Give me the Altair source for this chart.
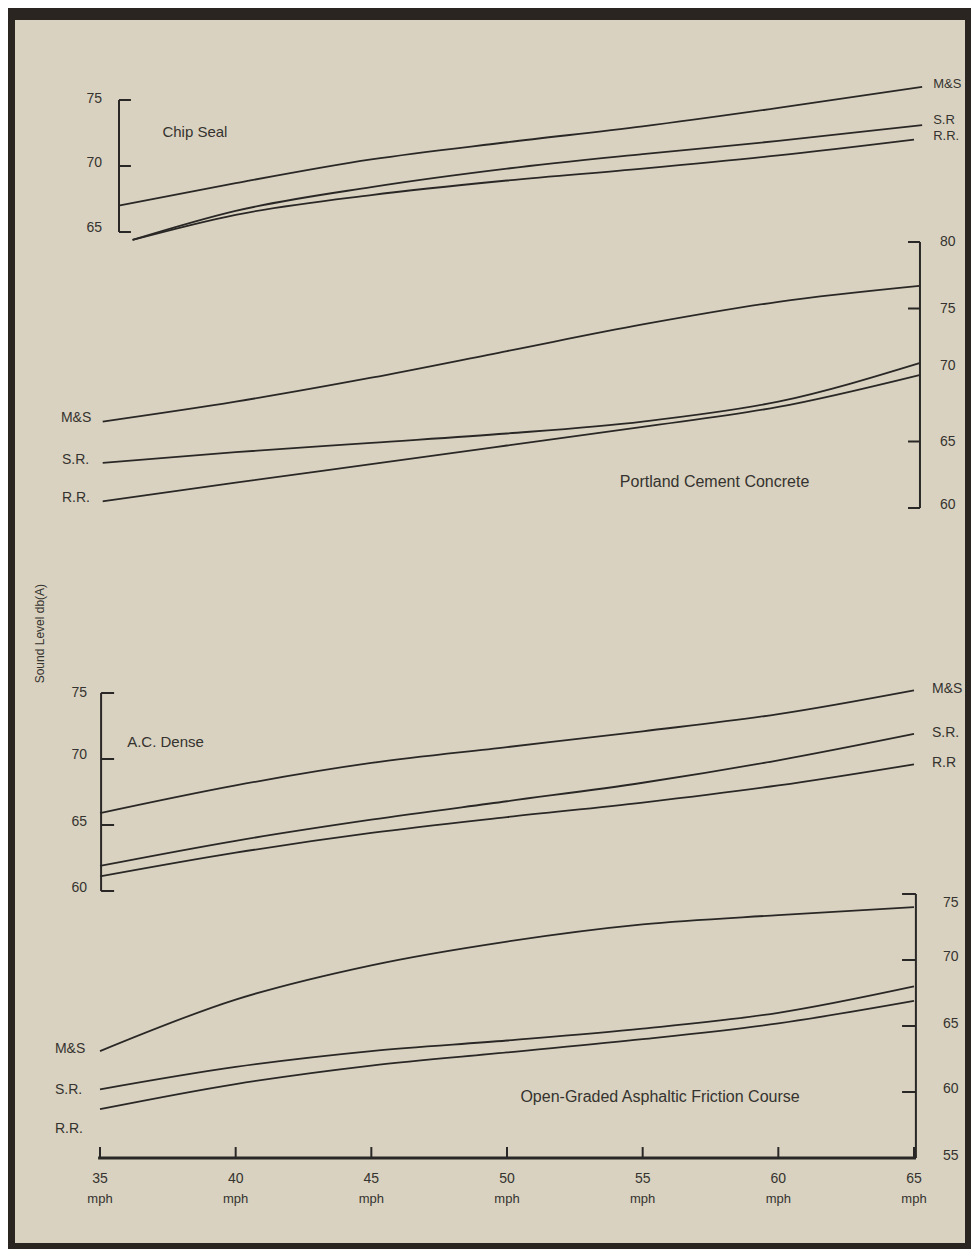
import altair as alt
import pandas as pd

# ---------------- data ----------------
MPH_TICKS = [35, 40, 45, 50, 55, 60, 65]

# Chip Seal (left axis 65-75)
cs_ms_mph = [35.7, 40, 45, 50, 55, 60, 65.3]
cs_ms_db = [67.0, 68.7, 70.5, 71.8, 73.0, 74.4, 76.0]
cs_sr_mph = [36.2, 40, 45, 50, 55, 60, 65.3]
cs_sr_db = [64.4, 66.6, 68.4, 69.8, 70.9, 71.9, 73.1]
cs_rr_mph = [36.2, 40, 45, 50, 55, 60, 65.0]
cs_rr_db = [64.4, 66.3, 67.8, 68.9, 69.8, 70.8, 72.0]

# Portland Cement Concrete (right axis 60-80)
pcc_mph = [35.1, 40, 45, 50, 55, 60, 65.2]
pcc_ms_db = [66.5, 68.0, 69.8, 71.8, 73.8, 75.5, 76.7]
pcc_sr_db = [63.4, 64.2, 64.9, 65.6, 66.5, 68.0, 70.9]
pcc_rr_db = [60.5, 61.9, 63.3, 64.7, 66.1, 67.6, 70.0]

# A.C. Dense (left axis 60-75)
ac_mph = [35, 40, 45, 50, 55, 60, 65]
ac_ms_db = [65.9, 68.0, 69.7, 70.9, 72.1, 73.4, 75.2]
ac_sr_db = [61.9, 63.8, 65.4, 66.8, 68.2, 69.9, 71.9]
ac_rr_db = [61.1, 62.9, 64.4, 65.6, 66.7, 68.0, 69.6]

# Open-Graded Asphaltic Friction Course (right axis 55-75)
og_mph = [35, 40, 45, 50, 55, 60, 65]
og_ms_db = [63.1, 67.0, 69.6, 71.4, 72.7, 73.4, 74.0]
og_sr_db = [60.2, 61.9, 63.1, 63.9, 64.8, 66.0, 68.0]
og_rr_db = [58.7, 60.6, 62.0, 63.0, 64.0, 65.2, 66.9]

SERIES = ["M&S", "S.R.", "R.R."]

# scale-bar ticks and labels of each panel
cs_ticks = [65, 70, 75]
cs_labels = [65, 70, 75]
pcc_ticks = [60, 65, 75, 80]
pcc_labels = [60, 65, 70, 75, 80]
ac_ticks = [60, 65, 70, 75]
ac_labels = [60, 65, 70, 75]
og_ticks = [55, 60, 65, 70, 75]
og_labels = [55, 60, 65, 70, 75]
# where each panel's vertical scale bar stands (mph) and where its ticks end
cs_axis_at, cs_tick_to = 35.70, 36.14
pcc_axis_at, pcc_tick_to = 65.22, 64.78
ac_axis_at, ac_tick_to = 35.04, 35.52
og_axis_at, og_tick_to = 65.07, 64.56
x_tick_top = 55.83  # top of the speed ticks, on the bottom panel's scale

# line-end labels (text, mph, dB)
cs_end_text = ["M&S", "S.R", "R.R."]
cs_end_mph = [65.3, 65.3, 65.3]
cs_end_db = [76.2, 73.5, 72.3]

pcc_start_text = ["M&S", "S.R.", "R.R."]
pcc_start_mph = [33.56, 33.6, 33.6]
pcc_start_db = [66.8, 63.6, 60.75]

ac_end_text = ["M&S", "S.R.", "R.R"]
ac_end_mph = [65, 65, 65]
ac_end_db = [75.3, 72.0, 69.7]

og_start_text = ["M&S", "S.R.", "R.R."]
og_start_mph = [33.34, 33.34, 33.34]
og_start_db = [63.26, 60.15, 57.2]

titles = ["Chip Seal", "Portland Cement Concrete", "A.C. Dense",
          "Open-Graded Asphaltic Friction Course"]
title_mph = [37.3, 54.16, 36.0, 55.64]
title_db = [72.6, 61.95, 71.3, 59.6]

ylabel_text = "Sound Level db(A)"
ylabel_mph = 32.8
ylabel_db = 79.5

# ---------------- styling ----------------
FONT = "Liberation Sans"
INK = "#2a2826"
TXT = "#35332f"
X_SCALE = alt.Scale(domain=[35, 65], range=[85, 899], nice=False, zero=False)


def X(field):
    return alt.X(field, type="quantitative", scale=X_SCALE, axis=None)


def Y(field, yscale):
    return alt.Y(field, type="quantitative", scale=yscale, axis=None)


def series_df(xs_list, ys_list):
    rows = []
    for name, xs, ys in zip(SERIES, xs_list, ys_list):
        for x, y in zip(xs, ys):
            rows.append({"series": name, "mph": x, "db": y})
    return pd.DataFrame(rows)


def text_layer(texts, xs, ys, yscale, align="left", dx=0, dy=0, size=14,
               angle=None):
    d = pd.DataFrame({"label": texts, "mph": xs, "db": ys})
    kw = dict(align=align, baseline="middle", dx=dx, dy=dy, font=FONT,
              fontSize=size, color=TXT)
    if angle is not None:
        kw["angle"] = angle
    return alt.Chart(d).mark_text(**kw).encode(
        x=X("mph"), y=Y("db", yscale), text="label:N")


def rule_layer(x1, x2, y1, y2, yscale, width=2.0):
    d = pd.DataFrame({"x1": x1, "x2": x2, "y1": y1, "y2": y2})
    return alt.Chart(d).mark_rule(color=INK, strokeWidth=width).encode(
        x=X("x1"), x2="x2", y=Y("y1", yscale), y2="y2")


def scale_bar(ticks, labels, at, tick_to, yscale, label_align, label_dx,
              label_dy=None):
    n = len(ticks)
    m = len(labels)
    layers = [
        rule_layer([at], [at], [min(labels)], [max(labels)], yscale, 2.0),
        rule_layer([at] * n, [tick_to] * n, ticks, ticks, yscale, 2.0),
    ]
    dys = label_dy or [0] * m
    for lab, dy in zip(labels, dys):
        layers.append(text_layer([str(lab)], [at], [lab], yscale,
                                 align=label_align, dx=label_dx, dy=dy, size=14))
    return layers


def lines_layer(df, yscale):
    return alt.Chart(df).mark_line(interpolate="monotone", strokeWidth=1.8,
                                   color=INK).encode(
        x=X("mph"), y=Y("db", yscale), detail="series:N")


# Chip Seal
cs_scale = alt.Scale(domain=[65, 75], range=[212, 80], nice=False, zero=False)
p_cs = alt.layer(
    lines_layer(series_df([cs_ms_mph, cs_sr_mph, cs_rr_mph],
                          [cs_ms_db, cs_sr_db, cs_rr_db]), cs_scale),
    text_layer(cs_end_text, cs_end_mph, cs_end_db, cs_scale, "left", 11, 0, 13),
    text_layer([titles[0]], [title_mph[0]], [title_db[0]], cs_scale, "left", 0, 0, 15),
    *scale_bar(cs_ticks, cs_labels, cs_axis_at, cs_tick_to, cs_scale, "right", -17,
               [-4, -3, -1]),
)

# Portland Cement Concrete
pcc_scale = alt.Scale(domain=[60, 80], range=[488, 222], nice=False, zero=False)
p_pcc = alt.layer(
    lines_layer(series_df([pcc_mph] * 3, [pcc_ms_db, pcc_sr_db, pcc_rr_db]), pcc_scale),
    text_layer(pcc_start_text, pcc_start_mph, pcc_start_db, pcc_scale, "left", 0, 0, 14),
    text_layer([titles[1]], [title_mph[1]], [title_db[1]], pcc_scale, "left", 0, 0, 16),
    *scale_bar(pcc_ticks, pcc_labels, pcc_axis_at, pcc_tick_to, pcc_scale, "left", 20,
               [-3, 0, -9, 0, 0]),
)

# A.C. Dense
ac_scale = alt.Scale(domain=[60, 75], range=[871, 673], nice=False, zero=False)
p_ac = alt.layer(
    lines_layer(series_df([ac_mph] * 3, [ac_ms_db, ac_sr_db, ac_rr_db]), ac_scale),
    text_layer(ac_end_text, ac_end_mph, ac_end_db, ac_scale, "left", 18, 0, 14),
    text_layer([titles[2]], [title_mph[2]], [title_db[2]], ac_scale, "left", 0, 0, 15),
    text_layer([ylabel_text], [ylabel_mph], [ylabel_db], ac_scale, "center", 0, 0, 12,
               angle=270),
    *scale_bar(ac_ticks, ac_labels, ac_axis_at, ac_tick_to, ac_scale, "right", -14,
               [-3, -3, -4, 0]),
)

# Open-Graded Asphaltic Friction Course + speed axis
og_scale = alt.Scale(domain=[55, 75], range=[1138, 874], nice=False, zero=False)
nt = len(MPH_TICKS)
p_og = alt.layer(
    lines_layer(series_df([og_mph] * 3, [og_ms_db, og_sr_db, og_rr_db]), og_scale),
    text_layer(og_start_text, og_start_mph, og_start_db, og_scale, "left", 0, 0, 14),
    text_layer([titles[3]], [title_mph[3]], [title_db[3]], og_scale, "center", 0, 0, 16),
    *scale_bar(og_ticks, og_labels, og_axis_at, og_tick_to, og_scale, "left", 27,
               [-2, -3, -2, -3, 9]),
    # speed axis
    rule_layer([MPH_TICKS[0] - 0.07], [MPH_TICKS[-1] + 0.07], [55], [55], og_scale, 3.0),
    rule_layer(MPH_TICKS, MPH_TICKS, [55] * nt, [x_tick_top] * nt, og_scale, 2.0),
    text_layer([str(m) for m in MPH_TICKS], MPH_TICKS, [55] * nt, og_scale,
               "center", 0, 21, 14),
    text_layer(["mph"] * nt, MPH_TICKS, [55] * nt, og_scale, "center", 0, 41, 13),
)

chart = alt.layer(p_cs, p_pcc, p_ac, p_og).resolve_scale(y="independent").properties(
    width=950,
    height=1223,
    padding={"left": 7, "top": 12, "right": 6, "bottom": 6},
    background="#2a2521",
    autosize=alt.AutoSizeParams(type="none"),
).configure_view(fill="#d9d2c0", stroke=None)

chart.save("out.html", embed_options={"renderer": "svg", "actions": False})
